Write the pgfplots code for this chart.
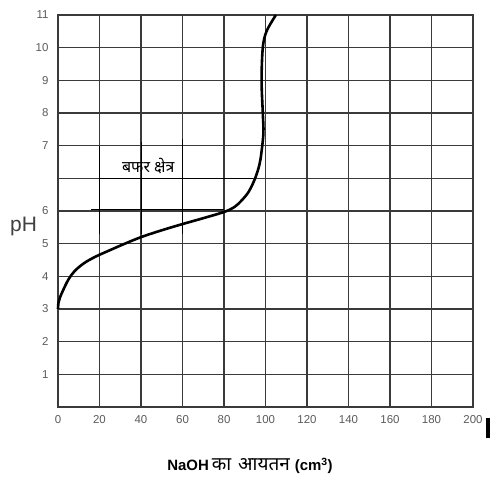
\documentclass[border=0pt]{standalone}
\usepackage{pgfplots}
\pgfplotsset{compat=1.18}
\usepackage{fontspec}
\setmainfont{Liberation Sans}
\newfontfamily\devfont[Script=Devanagari]{Noto Sans}
\definecolor{gridc}{HTML}{3A3A3A}
\definecolor{tickc}{HTML}{5A5A5A}
\begin{document}
\begin{tikzpicture}
\useasboundingbox (-58bp,-70bp) rectangle (433bp,407bp);
\begin{axis}[
  at={(0,0)}, anchor=south west,
  scale only axis, width=415bp, height=392bp,
  xmin=0, xmax=200, ymin=0, ymax=12,
  xtick={0,20,...,200},
  ytick={0,1,...,12},
  yticklabels={,1,2,3,4,5,6,,7,8,9,10,11},
  grid=major,
  grid style={gridc, line width=1.4bp},
  axis line style={gridc, line width=1.4bp},
  major tick length=0pt,
  tick label style={font=\fontsize{11.5}{13}\selectfont, text=tickc},
  /pgf/number format/assume math mode=true,
  xticklabel style={yshift=-5bp},
  yticklabel style={xshift=-6bp},
  clip=false,
]
% buffer region annotation lines
\draw[black, line width=0.8bp] (axis cs:20,7) -- (axis cs:94,7);
\draw[black, line width=0.8bp] (axis cs:16,6.04) -- (axis cs:80,6.04);
\draw[black, line width=0.8bp] (axis cs:20,5.3) -- (axis cs:20,8);
\draw[black, line width=0.8bp] (axis cs:40,5.3) -- (axis cs:40,8.1);
\draw[black, line width=0.8bp] (axis cs:60,5.3) -- (axis cs:60,8.2);
\node[font=\devfont\fontsize{16}{18}\selectfont] at (axis cs:43.5,7.37) {बफर क्षेत्र};
\addplot[black, line width=2.6bp, smooth, tension=0.55] coordinates {
(0,3.0) (0.25,3.2) (1,3.36) (2.5,3.58) (5,3.9) (8,4.16) (12.5,4.4) (18,4.6)
(25,4.8) (31.5,4.98) (40,5.2) (50,5.41) (60,5.6) (70,5.78) (80,5.97) (85,6.12)
(88.6,6.33) (92,6.6) (95,7.0) (97,7.4) (98,7.77) (99,8.4) (98.7,9)
(98.1,10) (98.7,11) (100.5,11.5) (105,12)
};
\end{axis}
\node[text=black!75, font=\fontsize{21}{24}\selectfont] at (-34.5bp,181bp) {pH};
\node[font=\bfseries\fontsize{15}{17}\selectfont] at (192bp,-59bp) {NaOH\hspace{3bp}{\devfont\bfseries\fontsize{19}{21}\selectfont का\hspace{7bp}आयतन}\hspace{5bp}(cm\textsuperscript{3})};
\fill[black] (428bp,-11bp) rectangle (432bp,-31bp);
\end{tikzpicture}
\end{document}
